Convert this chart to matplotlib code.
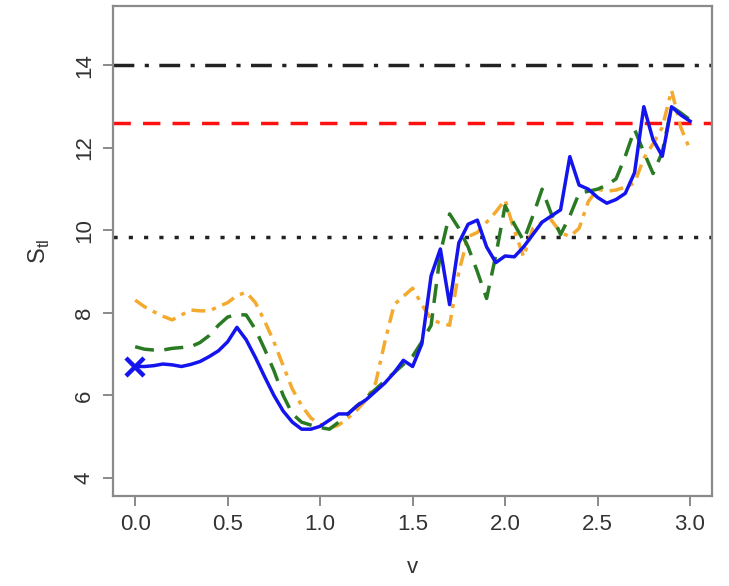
import numpy as np
import matplotlib
matplotlib.use("Agg")
import matplotlib.pyplot as plt

plt.rcParams['font.family'] = ['Liberation Sans', 'DejaVu Sans']
plt.rcParams['mathtext.fontset'] = 'custom'
plt.rcParams['mathtext.rm'] = 'Liberation Sans'

# grid of v values
v = np.round(np.arange(0, 3.0001, 0.05), 2)

s_blue = [6.70, 6.70, 6.72, 6.76, 6.74, 6.70, 6.75, 6.82, 6.94, 7.08,
          7.30, 7.65, 7.35, 6.92, 6.45, 6.00, 5.62, 5.35, 5.18, 5.18,
          5.25, 5.40, 5.55, 5.55, 5.75, 5.90, 6.10, 6.30, 6.55, 6.85,
          6.70, 7.25, 8.90, 9.55, 8.20, 9.70, 10.15, 10.25, 9.60, 9.22,
          9.38, 9.36, 9.60, 9.90, 10.20, 10.35, 10.50, 11.79, 11.10, 11.00,
          10.80, 10.66, 10.75, 10.90, 11.40, 13.00, 12.20, 11.80, 13.00, 12.80,
          12.65]

s_green = [7.18, 7.12, 7.10, 7.10, 7.14, 7.16, 7.18, 7.28, 7.45, 7.70,
           7.90, 7.96, 7.95, 7.60, 7.12, 6.60, 6.00, 5.55, 5.35, 5.28,
           5.22, 5.18, 5.35, 5.55, 5.75, 5.95, 6.15, 6.35, 6.55, 6.75,
           6.95, 7.30, 7.70, 9.45, 10.40, 10.05, 9.60, 9.00, 8.35, 9.40,
           10.60, 10.15, 9.75, 10.35, 11.00, 10.40, 9.90, 10.35, 10.90, 10.95,
           11.00, 11.10, 11.25, 11.80, 12.45, 11.90, 11.38, 11.90, 13.00, 12.85,
           12.68]

s_orange = [8.31, 8.15, 8.03, 7.92, 7.83, 7.95, 8.07, 8.05, 8.05, 8.15,
            8.25, 8.42, 8.50, 8.25, 7.80, 7.30, 6.72, 6.15, 5.75, 5.45,
            5.30, 5.20, 5.28, 5.45, 5.65, 5.90, 6.30, 7.30, 8.20, 8.40,
            8.60, 8.20, 7.85, 7.75, 7.70, 9.00, 9.85, 9.95, 10.20, 10.45,
            10.74, 10.00, 9.36, 10.05, 10.20, 10.25, 9.95, 9.85, 10.05, 10.70,
            11.00, 10.95, 10.98, 11.05, 11.15, 11.75, 12.10, 12.50, 13.40, 12.50,
            11.95]

# reference levels
level_top = 14.0
level_red = 12.6
level_low = 9.85
start_point = (0.0, 6.7)

fig = plt.figure(figsize=(7.29, 5.86), dpi=100)
ax = fig.add_axes([0.155, 0.1536, 0.822, 0.836])

lw = 2.5
ax.axhline(level_top, color='#222222', lw=lw, dashes=(6, 3, 1.2, 3))
ax.axhline(level_red, color='#ff1010', lw=lw, dashes=(5, 3.5))
ax.axhline(level_low, color='#222222', lw=lw, dashes=(1.2, 3.2))

ax.plot(v, s_orange, color='#f3aa2e', lw=lw, dashes=(4, 2, 1.2, 2))
ax.plot(v, s_green, color='#2a7a23', lw=lw, dashes=(5.5, 3))
ax.plot(v, s_blue, color='#1414ee', lw=lw)
ax.plot(*start_point, marker='x', color='#1414ee', ms=13, mew=3.2)

ax.set_xlim(-0.12, 3.12)
ax.set_ylim(3.56, 15.44)
ax.set_xticks([0.0, 0.5, 1.0, 1.5, 2.0, 2.5, 3.0])
ax.set_xticklabels(['0.0', '0.5', '1.0', '1.5', '2.0', '2.5', '3.0'])
ax.set_yticks([4, 6, 8, 10, 12, 14])

for s in ax.spines.values():
    s.set_color('#8a8a8a')
    s.set_linewidth(1.6)
ax.tick_params(direction='out', length=7, width=1.4, color='#8a8a8a',
               labelsize=16, labelcolor='#333333', pad=6)
for lab in ax.get_yticklabels():
    lab.set_rotation(90)
    lab.set_va('center')

ax.set_xlabel('v', fontsize=16, color='#333333', labelpad=16)
ax.set_ylabel(r'$\mathrm{S}_{\mathrm{tl}}$', fontsize=17, color='#333333', labelpad=16)

fig.savefig('out.png', dpi=100)
